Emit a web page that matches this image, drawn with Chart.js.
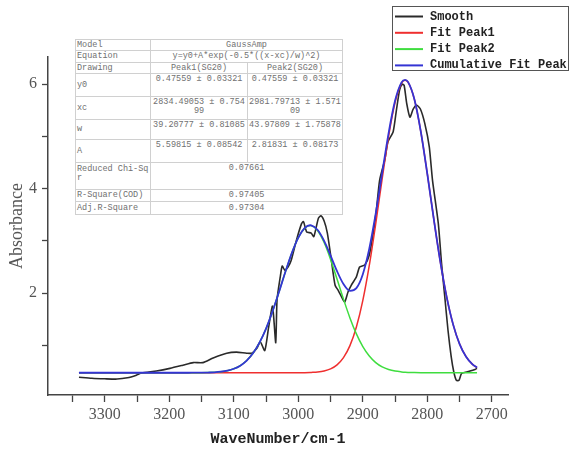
<!DOCTYPE html>
<html lang="en">
<head>
    <meta charset="UTF-8">
    <title>GaussAmp Peak Fit</title>
    <script src="https://cdn.jsdelivr.net/npm/chart.js"></script>
    <style>
        body { margin: 0; background: #fff; }
        #wrap { position: relative; width: 570px; height: 451px; }
        #fitTable {
            position: absolute; left: 75px; top: 39px; width: 267px;
            border-collapse: collapse; table-layout: fixed; background: #fff;
            border: 1px solid #999;
            font-family: "Liberation Mono", monospace; font-size: 8.5px; line-height: 9px; color: #707070;
        }
        #fitTable td { border: 1px solid #d0d0d0; padding: 0 1px; vertical-align: middle; word-break: break-all; }
        #fitTable td:first-child { padding: 0 0 0 1px; }
        #fitTable td.c { text-align: center; }
        #fitTable td.v { text-align: center; vertical-align: top; padding-top: 1px; }
        #fitTable td.t { vertical-align: top; padding-top: 2px; }
    </style>
</head>
<body>

<div id="wrap">
    <canvas id="spectrum" width="570" height="451"></canvas>

    <table id="fitTable">
        <colgroup><col style="width:75px"><col style="width:97px"><col style="width:95px"></colgroup>
        <tr style="height:11px"><td>Model</td><td colspan="2" class="c">GaussAmp</td></tr>
        <tr style="height:12px"><td>Equation</td><td colspan="2" class="c">y=y0+A*exp(-0.5*((x-xc)/w)^2)</td></tr>
        <tr style="height:11px"><td>Drawing</td><td class="c">Peak1(SG20)</td><td class="c">Peak2(SG20)</td></tr>
        <tr style="height:23px"><td>y0</td><td class="v">0.47559 ± 0.03321</td><td class="v">0.47559 ± 0.03321</td></tr>
        <tr style="height:23px"><td>xc</td><td class="v">2834.49053 ± 0.75499</td><td class="v">2981.79713 ± 1.57109</td></tr>
        <tr style="height:20px"><td>w</td><td class="v">39.20777 ± 0.81085</td><td class="v">43.97809 ± 1.75878</td></tr>
        <tr style="height:23px"><td>A</td><td class="v">5.59815 ± 0.08542</td><td class="v">2.81831 ± 0.08173</td></tr>
        <tr style="height:27px"><td class="t">Reduced Chi-Sqr</td><td colspan="2" class="v">0.07661</td></tr>
        <tr style="height:12px"><td>R-Square(COD)</td><td colspan="2" class="c">0.97405</td></tr>
        <tr style="height:13px"><td>Adj.R-Square</td><td colspan="2" class="c">0.97304</td></tr>
    </table>
</div>

<script>

// smoothed spectrum (wavenumber, absorbance)
const smoothWave = [3340, 3320, 3300, 3281, 3265, 3251, 3243, 3220, 3199, 3179, 3163, 3148, 3132, 3111, 3096, 3080,
    3072, 3064, 3059, 3052, 3046, 3040, 3035, 3033, 3028, 3025, 3021, 3016, 3011, 3003, 2995, 2992, 2987, 2980,
    2976, 2969, 2965, 2960, 2955, 2949, 2943, 2938, 2931, 2928, 2923, 2918, 2910, 2905, 2897, 2890, 2884, 2879,
    2874, 2866, 2861, 2853, 2848, 2843, 2839, 2836, 2832, 2827, 2822, 2817, 2811, 2804, 2797, 2792, 2783, 2778,
    2773, 2768, 2763, 2759, 2755, 2751, 2747, 2739, 2726, 2723];
const smoothAbs = [0.39, 0.37, 0.36, 0.355, 0.38, 0.43, 0.47, 0.51, 0.56, 0.62, 0.67, 0.67, 0.76, 0.85, 0.87, 0.85,
    0.85, 0.95, 1.07, 0.90, 1.35, 1.75, 1.05, 1.87, 2.31, 2.52, 2.44, 2.50, 2.63, 3.01, 3.33, 3.37, 3.17, 3.15,
    3.08, 3.43, 3.48, 3.38, 3.15, 2.65, 2.15, 2.05, 1.88, 1.83, 2.02, 2.15, 2.31, 2.50, 2.54, 2.73, 3.14, 3.59,
    4.16, 4.55, 4.90, 5.09, 5.50, 5.89, 6.00, 5.98, 5.63, 5.37, 5.52, 5.60, 5.53, 5.25, 4.80, 4.16, 3.33, 2.57,
    1.93, 1.29, 0.78, 0.49, 0.33, 0.33, 0.46, 0.49, 0.54, 0.56];

// fitted curves, all sampled on the same wavenumbers
const fitWave = [3340, 3300, 3260, 3220, 3190,
    3180, 3170, 3160, 3150, 3140, 3130, 3120, 3110, 3100, 3090, 3080, 3070, 3060, 3050, 3040, 3030, 3020, 3010, 3000,
    2990, 2981.8, 2980,
    2970, 2960, 2950, 2940, 2930, 2920, 2910, 2900, 2890, 2880, 2870, 2860, 2850, 2840,
    2834.5,
    2830, 2820, 2810, 2800, 2790, 2780, 2770, 2760, 2750, 2740, 2730,
    2723];
const peak1 = [0.476, 0.476, 0.476, 0.476, 0.476,
    0.476, 0.476, 0.476, 0.476, 0.476, 0.476, 0.476, 0.476, 0.476, 0.476, 0.476, 0.476, 0.476, 0.476, 0.476, 0.476, 0.476, 0.476, 0.477,
    0.478, 0.481, 0.482,
    0.490, 0.509, 0.549, 0.626, 0.764, 0.995, 1.353, 1.863, 2.532, 3.331, 4.191, 5.007, 5.654, 6.019,
    6.074,
    6.037, 5.704, 5.082, 4.277, 3.416, 2.607, 1.923, 1.397, 1.025, 0.783, 0.637,
    0.574];
const peak2 = [0.476, 0.476, 0.476, 0.476, 0.476,
    0.476, 0.476, 0.477, 0.477, 0.480, 0.485, 0.496, 0.516, 0.552, 0.612, 0.709, 0.853, 1.056, 1.322, 1.650, 2.021, 2.408, 2.770, 3.063,
    3.245, 3.294, 3.292,
    3.194, 2.968, 2.646, 2.270, 1.885, 1.526, 1.219, 0.976, 0.795, 0.669, 0.587, 0.537, 0.508, 0.492,
    0.486,
    0.483, 0.479, 0.477, 0.476, 0.476, 0.476, 0.476, 0.476, 0.476, 0.476, 0.476,
    0.476];
const cumulative = [0.476, 0.476, 0.476, 0.476, 0.476,
    0.476, 0.476, 0.477, 0.477, 0.480, 0.485, 0.496, 0.516, 0.552, 0.612, 0.709, 0.853, 1.056, 1.322, 1.650, 2.021, 2.408, 2.770, 3.064,
    3.247, 3.299, 3.297,
    3.209, 3.002, 2.719, 2.420, 2.173, 2.045, 2.096, 2.363, 2.851, 3.524, 4.302, 5.068, 5.686, 6.035,
    6.084,
    6.044, 5.707, 5.083, 4.277, 3.416, 2.607, 1.923, 1.397, 1.025, 0.783, 0.637,
    0.574];

const xTickValues = [2700, 2750, 2800, 2850, 2900, 2950, 3000, 3050, 3100, 3150, 3200, 3250, 3300, 3350];
const yTickValues = [1, 2, 3, 4, 5, 6];


function toPoints(xs, ys) {
    return xs.map((x, i) => ({ x: x, y: ys[i] }));
}


// boxed legend in the top right corner
const legendBox = {
    id: 'legendBox',
    afterDraw(chart) {
        const c = chart.ctx;
        c.save();
        c.fillStyle = '#fff';
        c.fillRect(392, 6, 177, 65);
        c.strokeStyle = '#555';
        c.lineWidth = 1;
        c.strokeRect(392.5, 6.5, 176, 64);
        c.font = 'bold 12px "Liberation Mono"';
        c.textBaseline = 'middle';
        chart.data.datasets.forEach((ds, i) => {
            const y = 16.5 + i * 16.3;
            c.strokeStyle = ds.borderColor;
            c.lineWidth = 2;
            c.beginPath();
            c.moveTo(395, y);
            c.lineTo(423, y);
            c.stroke();
            c.fillStyle = '#222';
            c.fillText(ds.label, 430, y);
        });
        c.restore();
    }
};


const ctx = document.getElementById('spectrum').getContext('2d');

new Chart(ctx, {
    type: 'line',
    data: {
        datasets: [
            {
                label: 'Smooth',
                data: toPoints(smoothWave, smoothAbs),
                borderColor: '#2a2a2a',
                borderWidth: 1.6,
                tension: 0.2,
                order: 4
            },
            {
                label: 'Fit Peak1',
                data: toPoints(fitWave, peak1),
                borderColor: '#ef2f2f',
                borderWidth: 1.5,
                cubicInterpolationMode: 'monotone',
                order: 3
            },
            {
                label: 'Fit Peak2',
                data: toPoints(fitWave, peak2),
                borderColor: '#3fdd3f',
                borderWidth: 1.5,
                cubicInterpolationMode: 'monotone',
                order: 2
            },
            {
                label: 'Cumulative Fit Peak',
                data: toPoints(fitWave, cumulative),
                borderColor: '#3434d4',
                borderWidth: 1.8,
                cubicInterpolationMode: 'monotone',
                order: 1
            }
        ]
    },
    options: {
        responsive: false,
        animation: false,
        elements: { point: { radius: 0 } },
        layout: { padding: { top: 57, right: 62, left: 0, bottom: 0 } },
        plugins: {
            legend: { display: false },
            tooltip: { enabled: false }
        },
        scales: {
            x: {
                type: 'linear',
                reverse: true,
                min: 2675,
                max: 3388,
                afterBuildTicks: axis => { axis.ticks = xTickValues.map(v => ({ value: v })); },
                afterFit: axis => { axis.height = 56; },
                grid: { display: true, drawOnChartArea: false, drawTicks: true, tickLength: 7, tickColor: '#444', tickWidth: 1.3 },
                border: { display: true, color: '#444', width: 1.5 },
                ticks: {
                    autoSkip: false,
                    maxRotation: 0,
                    padding: 3,
                    color: '#555',
                    font: { family: 'Liberation Serif', size: 16 },
                    callback: v => (v % 100 === 0 ? String(v) : '')
                },
                title: {
                    display: true,
                    text: 'WaveNumber/cm-1',
                    color: '#222',
                    font: { family: 'Liberation Mono', size: 15, weight: 'bold' },
                    padding: { top: 0, bottom: 3 }
                }
            },
            y: {
                min: 0.05,
                max: 6.52,
                afterBuildTicks: axis => { axis.ticks = yTickValues.map(v => ({ value: v })); },
                afterFit: axis => { axis.width = 48; },
                grid: { display: true, drawOnChartArea: false, drawTicks: true, tickLength: 6, tickColor: '#444', tickWidth: 1.3 },
                border: { display: true, color: '#444', width: 1.5 },
                ticks: {
                    padding: 5,
                    color: '#555',
                    font: { family: 'Liberation Serif', size: 16 },
                    callback: v => (v % 2 === 0 ? String(v) : '')
                },
                title: {
                    display: true,
                    text: 'Absorbance',
                    color: '#555',
                    font: { family: 'Liberation Serif', size: 18 },
                    padding: { top: 6, bottom: 0 }
                }
            }
        }
    },
    plugins: [legendBox]
});

</script>
</body>
</html>
